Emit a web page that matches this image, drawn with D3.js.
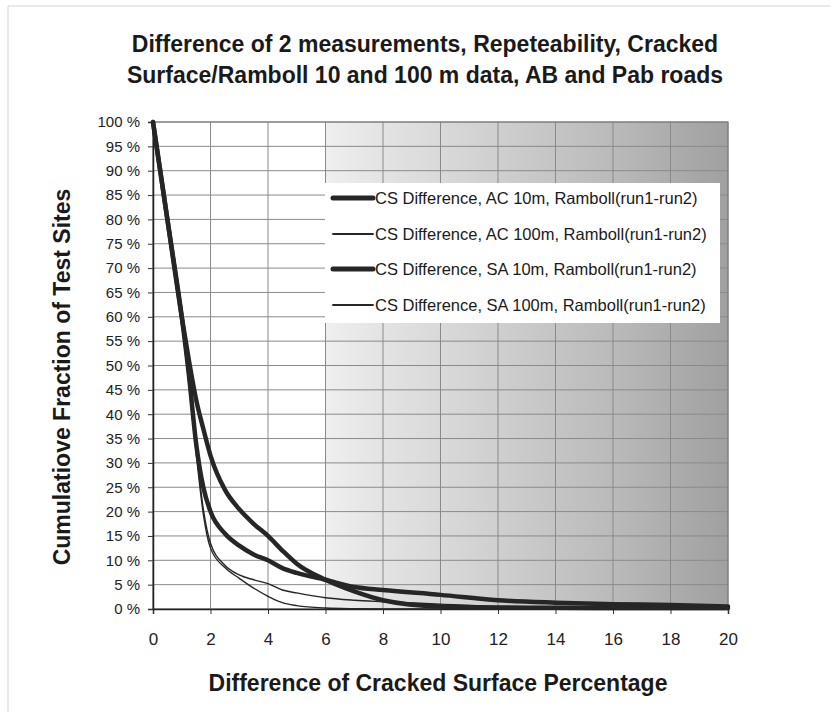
<!DOCTYPE html>
<html>
<head>
<meta charset="utf-8">
<script src="https://cdn.jsdelivr.net/npm/d3@7"></script>
<style>
  html, body { margin: 0; padding: 0; background: #fff; }
  svg { display: block; }
  text { font-family: "Liberation Sans", Arial, sans-serif; fill: #1a1a1a; }
</style>
</head>
<body>
<svg id="chart" width="838" height="719"></svg>
<script>
// ---- data ----
const titleLines = [
  "Difference of 2 measurements, Repeteability, Cracked",
  "Surface/Ramboll 10 and 100 m data, AB and Pab roads"
];
const xLabel = "Difference of Cracked Surface Percentage";
const yLabel = "Cumulatiove Fraction of Test Sites";

const xTicks = [0, 2, 4, 6, 8, 10, 12, 14, 16, 18, 20];
const yTicks = [0, 5, 10, 15, 20, 25, 30, 35, 40, 45, 50, 55, 60, 65, 70, 75, 80, 85, 90, 95, 100];

const diffValues = [0, 0.5, 1, 1.25, 1.5, 1.75, 2, 2.5, 3, 3.5, 4, 4.5, 5, 6, 7, 8, 10, 12, 14, 16, 18, 20];
const acTen     = [100, 80, 60, 51, 43, 37, 31.5, 24.5, 20.5, 17.5, 15, 12, 9.3, 6, 3.6, 1.8, 0.5, 0.3, 0.25, 0.2, 0.2, 0.2];
const acHundred = [100, 80, 59, 47, 33, 20.5, 13.5, 9, 7, 6, 5.2, 3.9, 3.3, 2.3, 1.8, 1.5, 1.0, 0.5, 0.3, 0.3, 0.3, 0.3];
const saTen     = [100, 80, 60, 48, 34, 25, 20, 15.5, 13, 11.2, 10, 8.4, 7.4, 6, 4.5, 3.9, 2.9, 1.8, 1.3, 1.0, 0.8, 0.5];
const saHundred = [100, 80, 59, 46, 32, 19.5, 12.5, 8.5, 6.3, 4.3, 2.6, 1.3, 0.7, 0.2, 0.05, 0, 0, 0, 0, 0, 0, 0];

const seriesNames = [
  "CS Difference, AC 10m, Ramboll(run1-run2)",
  "CS Difference, AC 100m, Ramboll(run1-run2)",
  "CS Difference, SA 10m, Ramboll(run1-run2)",
  "CS Difference, SA 100m, Ramboll(run1-run2)"
];
const seriesValues = [acTen, acHundred, saTen, saHundred];
const seriesWidths = [4.5, 1.4, 4.5, 1.4];

// ---- layout ----
const svg = d3.select("#chart");
const pLeft = 153, pRight = 728, pTop = 122, pBottom = 609;

const x = d3.scaleLinear().domain([0, 20]).range([pLeft, pRight]);
const y = d3.scaleLinear().domain([0, 100]).range([pBottom, pTop]);

svg.append("rect").attr("width", 838).attr("height", 719).attr("fill", "#fff");
// faint scanned frame
svg.append("path").attr("d", "M8,712 L8,6 L830,6").attr("fill", "none").attr("stroke", "#d4d4d4").attr("stroke-width", 1);

// background gradient
const defs = svg.append("defs");
const grad = defs.append("linearGradient").attr("id", "bg").attr("x1", "0").attr("x2", "1").attr("y1", "0").attr("y2", "0");
[[0, "#ffffff"], [0.3, "#ffffff"], [0.3, "#efefef"], [0.4, "#e3e3e3"], [0.6, "#cfcfcf"], [0.8, "#bababa"], [1, "#a0a0a0"]]
  .forEach(([o, c]) => grad.append("stop").attr("offset", o).attr("stop-color", c));
svg.append("rect").attr("x", pLeft).attr("y", pTop).attr("width", pRight - pLeft).attr("height", pBottom - pTop).attr("fill", "url(#bg)");

// grid
const g = svg.append("g");
g.selectAll(".hg").data(yTicks).join("line")
  .attr("x1", pLeft).attr("x2", pRight).attr("y1", d => y(d)).attr("y2", d => y(d))
  .attr("stroke", "#8a8a8a").attr("stroke-width", 1);
g.selectAll(".vg").data(xTicks).join("line")
  .attr("x1", d => x(d)).attr("x2", d => x(d)).attr("y1", pTop).attr("y2", pBottom)
  .attr("stroke", "#8a8a8a").attr("stroke-width", 1);
svg.append("rect").attr("x", pLeft).attr("y", pTop).attr("width", pRight - pLeft).attr("height", pBottom - pTop)
  .attr("fill", "none").attr("stroke", "#777").attr("stroke-width", 1);

// axes
const xAxis = d3.axisBottom(x).tickValues(xTicks).tickSize(5).tickPadding(19).tickFormat(d3.format("d"));
const yAxis = d3.axisLeft(y).tickValues(yTicks).tickSize(5).tickPadding(8).tickFormat(d => d + " %");
const gx = svg.append("g").attr("transform", `translate(0,${pBottom})`).call(xAxis);
const gy = svg.append("g").attr("transform", `translate(${pLeft},0)`).call(yAxis);
[gx, gy].forEach(a => {
  a.select(".domain").attr("stroke", "#222").attr("stroke-width", 1.5);
  a.selectAll(".tick line").attr("stroke", "#333");
  a.selectAll("text").style("font-family", "'Liberation Sans', Arial, sans-serif").style("fill", "#222");
});
gx.selectAll("text").style("font-size", "17px");
gy.selectAll("text").style("font-size", "15px");

// lines
const line = d3.line().x((d, i) => x(diffValues[i])).y(d => y(d)).curve(d3.curveMonotoneX);
seriesValues.forEach((vals, k) => {
  svg.append("path").datum(vals).attr("d", line)
    .attr("fill", "none").attr("stroke", "#262626").attr("stroke-width", seriesWidths[k])
    .attr("stroke-linejoin", "round").attr("stroke-linecap", "round");
});

// legend
const lg = svg.append("g");
lg.append("rect").attr("x", 325).attr("y", 183).attr("width", 395).attr("height", 140).attr("fill", "#fff");
const rows = [198, 234, 269, 305];
seriesNames.forEach((name, k) => {
  lg.append("line").attr("x1", 333).attr("x2", 373).attr("y1", rows[k]).attr("y2", rows[k])
    .attr("stroke", "#262626").attr("stroke-width", seriesWidths[k] + 0.5).attr("stroke-linecap", "round");
  lg.append("text").attr("x", 375).attr("y", rows[k]).attr("dy", "0.35em")
    .style("font-size", "16.5px").text(name);
});

// titles
svg.selectAll(".title").data(titleLines).join("text")
  .attr("x", 425).attr("y", (d, i) => 52 + i * 31).attr("text-anchor", "middle")
  .style("font-size", "23px").style("font-weight", "bold").text(d => d);
svg.append("text").attr("x", 438).attr("y", 691).attr("text-anchor", "middle")
  .style("font-size", "23px").style("font-weight", "bold").text(xLabel);
svg.append("text").attr("transform", "translate(70,377) rotate(-90)").attr("text-anchor", "middle")
  .style("font-size", "23px").style("font-weight", "bold").text(yLabel);
</script>
</body>
</html>
